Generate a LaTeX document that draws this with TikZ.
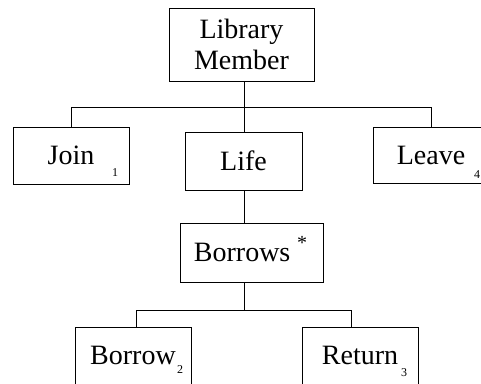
\documentclass[tikz,border=0pt]{standalone}
\usepackage{fontspec}
\setmainfont{Liberation Serif}

\tikzset{
  box/.style={draw, line width=0.6pt, inner sep=0pt, align=center, font=\fontsize{21}{23}\selectfont},
  idx/.style={inner sep=0pt, font=\fontsize{9}{9}\selectfont},
  link/.style={line width=0.6pt}
}

\begin{document}
\begin{tikzpicture}[x=0.75pt,y=0.75pt,yscale=-1,xscale=1]
\useasboundingbox (0,0) rectangle (481,383);
\clip (0,0) rectangle (481,383);

%Shape: Rectangle
\node [box, minimum width=108.75pt, minimum height=54.75pt] (member) at (241.5,44.5) {Library\\Member};
%Shape: Rectangle
\node [box, minimum width=87pt, minimum height=42.75pt] (join) at (71,155.5) {Join};
%Shape: Rectangle
\node [box, minimum width=87.75pt, minimum height=43.5pt] (life) at (243.5,161) {Life};
%Shape: Rectangle
\node [box, minimum width=87pt, minimum height=42pt] (leave) at (431,155) {Leave};
%Shape: Rectangle
\node [box, minimum width=107.25pt, minimum height=44.25pt] (borrows) at (251.5,252.5) {Borrows\hspace{14pt}};
%Shape: Rectangle
\node [box, minimum width=87pt, minimum height=42.75pt] (borrow) at (133,355.5) {Borrow};
%Shape: Rectangle
\node [box, minimum width=87pt, minimum height=42.75pt] (return) at (360,355.5) {Return};

% Text Node
\node [idx] (n1) at (115,173) {1};
% Text Node
\node [idx] (n4) at (477,175) {4};
% Text Node
\node [idx] (n2) at (180,370) {2};
% Text Node
\node [idx] (n3) at (404,373) {3};
% Text Node
\node [inner sep=0pt, font=\fontsize{15}{15}\selectfont] (star) at (302,243) {*};

%Straight Lines
\coordinate (hub) at (244,107);
\draw [link] (hub |- member.south) -- (hub |- life.north);
\draw [link] (hub -| join) -- (hub -| leave);
\draw [link] (hub -| join) -- (join.north);
\draw [link] (hub -| leave) -- (leave.north);
%Straight Lines
\draw [link] (hub |- life.south) -- (hub |- borrows.north);
%Straight Lines
\coordinate (fork) at (244,310);
\coordinate (forkl) at (136,310);
\coordinate (forkr) at (351,310);
\draw [link] (fork |- borrows.south) -- (fork);
\draw [link] (forkl) -- (forkr);
\draw [link] (forkl) -- (forkl |- borrow.north);
\draw [link] (forkr) -- (forkr |- return.north);

\end{tikzpicture}
\end{document}
